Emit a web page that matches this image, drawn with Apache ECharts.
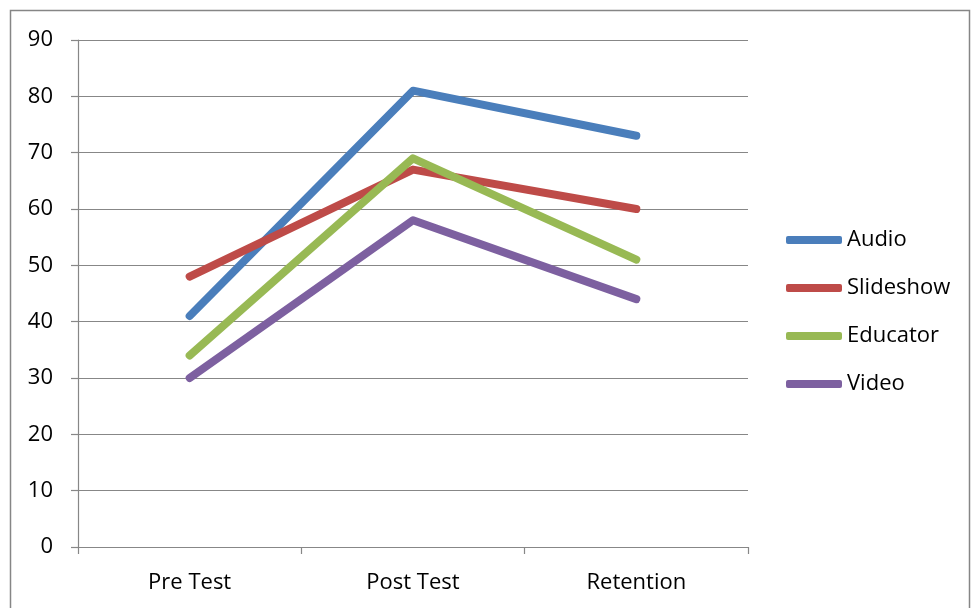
<!DOCTYPE html>
<html>
<head>
<meta charset="utf-8">
<script src="https://cdn.jsdelivr.net/npm/echarts@6/dist/echarts.min.js"></script>
<style>
  html, body { margin: 0; padding: 0; background: #fff; }
  #chart { width: 971px; height: 608px; }
</style>
</head>
<body>
<div id="chart"></div>
<script>
// Test phases on the horizontal axis
const categories = ['Pre Test', 'Post Test', 'Retention'];

// Scores per teaching method
const audio = [41, 81, 73];
const slideshow = [48, 67, 60];
const educator = [34, 69, 51];
const video = [30, 58, 44];

const seriesNames = ['Audio', 'Slideshow', 'Educator', 'Video'];
const seriesValues = [audio, slideshow, educator, video];
const seriesColors = ['#4A7EBB', '#BE4B48', '#98B954', '#7D60A0'];

const FONT = '"Open Sans", "Liberation Sans", sans-serif';
const FONT_SIZE = 22;
const GRID_GRAY = '#878787';

const chart = echarts.init(document.getElementById('chart'), null, { renderer: 'canvas' });

chart.setOption({
  backgroundColor: '#ffffff',
  animation: false,
  graphic: [{
    type: 'rect',
    shape: { x: 10.5, y: 10.5, width: 959, height: 620 },
    style: { fill: 'none', stroke: '#868686', lineWidth: 1.5 },
    silent: true
  }],
  grid: { left: 78, right: 223, top: 40, bottom: 61, containLabel: false },
  legend: {
    orient: 'vertical',
    left: 786,
    top: 228,
    padding: 0,
    itemWidth: 56,
    itemHeight: 8,
    itemGap: 24,
    icon: 'roundRect',
    textStyle: { fontFamily: FONT, fontSize: FONT_SIZE, color: '#000', lineHeight: 24 },
    data: seriesNames
  },
  xAxis: {
    type: 'category',
    data: categories,
    boundaryGap: true,
    axisLine: { lineStyle: { color: GRID_GRAY, width: 1.2 } },
    axisTick: { show: true, length: 7, interval: 0, lineStyle: { color: GRID_GRAY, width: 1.2 } },
    axisLabel: { fontFamily: FONT, fontSize: FONT_SIZE, color: '#000', margin: 25 }
  },
  yAxis: {
    type: 'value',
    min: 0,
    max: 90,
    interval: 10,
    axisLine: { show: true, lineStyle: { color: GRID_GRAY, width: 1.2 } },
    axisTick: { show: true, length: 7, lineStyle: { color: GRID_GRAY, width: 1.2 } },
    splitLine: { show: true, lineStyle: { color: GRID_GRAY, width: 1.2 } },
    axisLabel: { fontFamily: FONT, fontSize: FONT_SIZE, color: '#000', margin: 25 }
  },
  series: seriesNames.map((name, i) => ({
    name: name,
    type: 'line',
    data: seriesValues[i],
    showSymbol: false,
    symbol: 'none',
    color: seriesColors[i],
    lineStyle: { width: 8, color: seriesColors[i], join: 'round', cap: 'round' },
    itemStyle: { color: seriesColors[i] }
  }))
});
</script>
</body>
</html>
